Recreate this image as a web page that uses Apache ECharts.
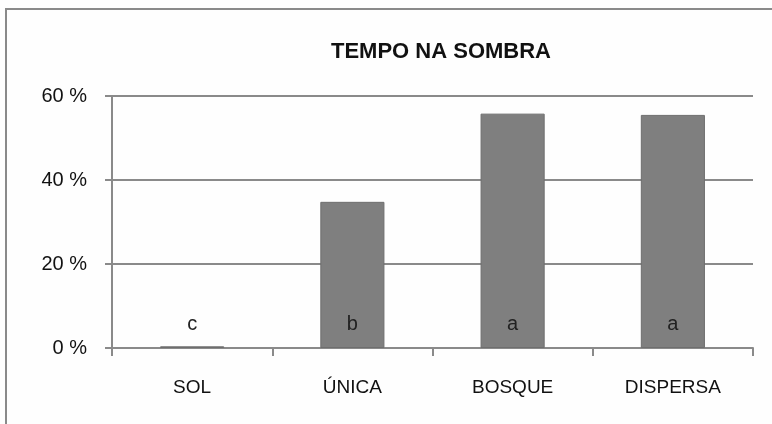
<!DOCTYPE html>
<html>
<head>
<meta charset="utf-8">
<script src="https://cdn.jsdelivr.net/npm/echarts@6/dist/echarts.min.js"></script>
<style>
  html, body { margin: 0; padding: 0; background: #fff; }
  #container { width: 772px; height: 424px; }
</style>
</head>
<body>
<div id="container"></div>
<script>
// values (percent)
var categories = ['SOL', 'ÚNICA', 'BOSQUE', 'DISPERSA']
var shadeTime = [0.4, 34.8, 55.8, 55.5]
var letters = ['c', 'b', 'a', 'a']

var font = '"Liberation Sans", Arial, sans-serif'

var myChart = echarts.init(document.getElementById('container'))
myChart.setOption({
    backgroundColor: '#fefefe',
    animation: false,
    title: {
        text: 'TEMPO NA SOMBRA',
        left: 436,
        textAlign: 'center',
        top: 36,
        textStyle: {
            fontFamily: font,
            fontSize: 22,
            fontWeight: 'bold',
            color: '#111'
        }
    },
    graphic: [{
        type: 'rect',
        shape: { x: 6, y: 9, width: 800, height: 440 },
        style: { fill: 'none', stroke: '#8a8a8a', lineWidth: 2 },
        silent: true
    }],
    grid: {
        left: 112,
        right: 19,
        top: 96,
        bottom: 76
    },
    xAxis: {
        type: 'category',
        data: categories,
        axisLine: { lineStyle: { color: '#8a8a8a', width: 2 } },
        axisTick: { show: true, length: 8, lineStyle: { color: '#8a8a8a', width: 2 } },
        axisLabel: {
            margin: 30,
            fontFamily: font,
            fontSize: 19,
            color: '#111'
        }
    },
    yAxis: {
        type: 'value',
        min: 0,
        max: 60,
        interval: 20,
        axisLine: { show: true, lineStyle: { color: '#8a8a8a', width: 2 } },
        axisTick: { show: true, length: 7, lineStyle: { color: '#8a8a8a', width: 2 } },
        splitLine: { lineStyle: { color: '#8a8a8a', width: 2 } },
        axisLabel: {
            margin: 25,
            fontFamily: font,
            fontSize: 20,
            color: '#111',
            formatter: function (v) { return v + ' %' }
        }
    },
    series: [{
        type: 'bar',
        data: shadeTime,
        barWidth: '40%',
        itemStyle: { color: '#7f7f7f', borderColor: '#6e6e6e', borderWidth: 1 },
        label: {
            show: true,
            position: 'insideBottom',
            distance: 14,
            fontFamily: font,
            fontSize: 20,
            color: '#222',
            formatter: function (p) { return letters[p.dataIndex] }
        }
    }]
})
</script>
</body>
</html>
